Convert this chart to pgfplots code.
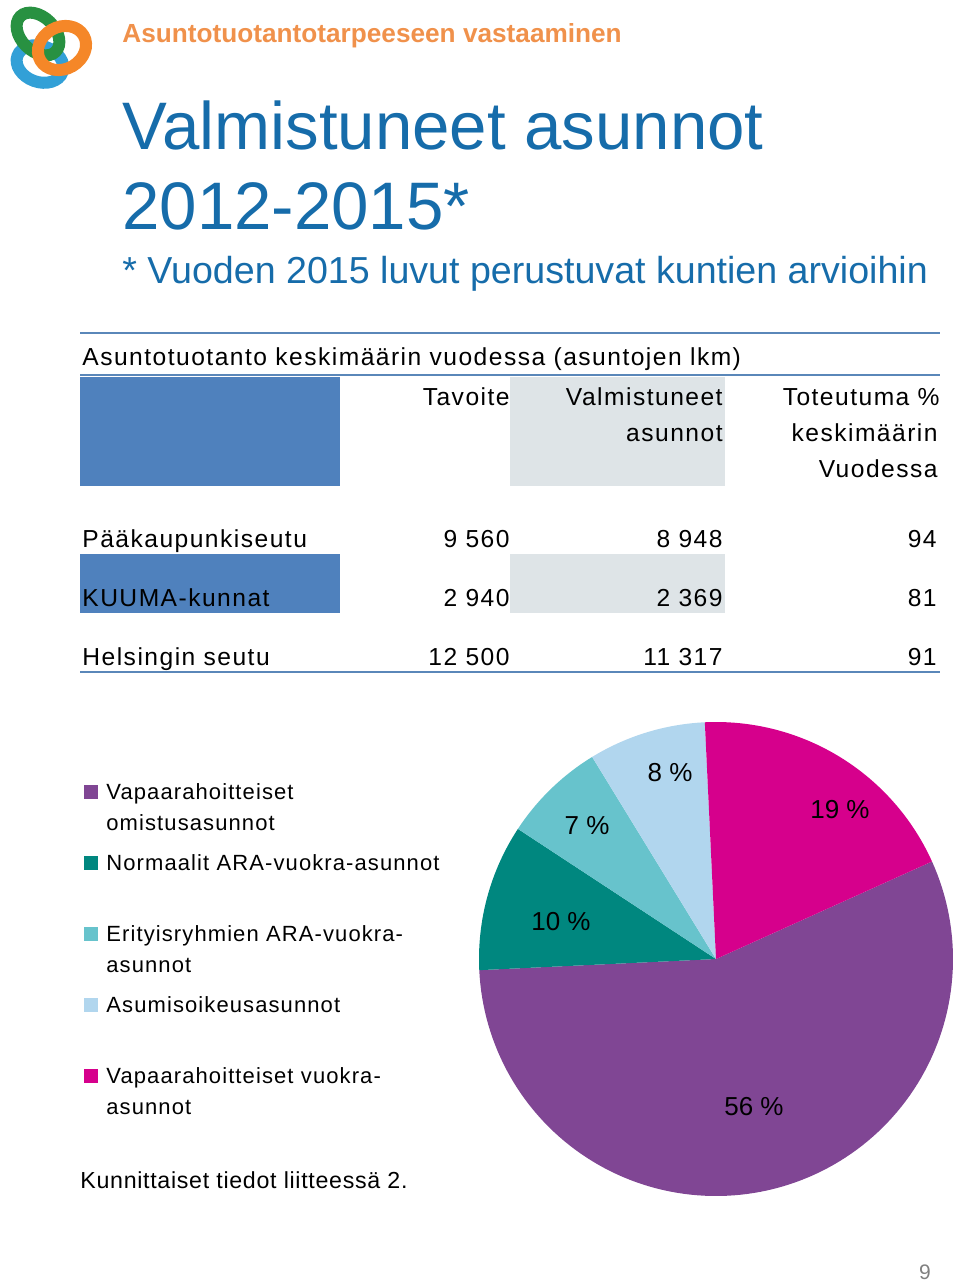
\documentclass[border=0pt]{standalone}
\usepackage{pgfplots}
\pgfplotsset{compat=1.18}
\usepgfplotslibrary{polar}
\usepackage{fontspec}
\setmainfont{Liberation Sans}
\newfontfamily\tabfont[LetterSpace=6]{Liberation Sans}
\newfontfamily\legfont[LetterSpace=5]{Liberation Sans}
\newfontfamily\footfont[LetterSpace=3]{Liberation Sans}
\definecolor{orangeT}{RGB}{240,145,75}
\definecolor{blueT}{RGB}{22,108,170}
\definecolor{tabline}{RGB}{90,135,185}
\definecolor{blockblue}{RGB}{79,129,189}
\definecolor{blockgray}{RGB}{222,228,231}
\definecolor{cPurple}{RGB}{128,70,148}
\definecolor{cTeal}{RGB}{0,135,127}
\definecolor{cCyan}{RGB}{103,195,204}
\definecolor{cLight}{RGB}{177,214,238}
\definecolor{cPink}{RGB}{214,0,140}
% pie shares (%), clockwise from the start angle
\def\vA{56}\def\vB{10}\def\vC{7}\def\vD{8}\def\vE{19}
\begin{document}
\begin{tikzpicture}[x=0.5bp,y=-0.5bp]
\path (0,0) rectangle (960,1282);
% logo
\draw[line width=6bp, color={rgb,255:red,50;green,160;blue,215}] (40,64) ellipse [x radius=24, y radius=18, rotate=-20];
\draw[line width=6bp, color={rgb,255:red,40;green,145;blue,65}] (38,34) ellipse [x radius=25, y radius=17, rotate=-45];
\draw[line width=6bp, color={rgb,255:red,245;green,135;blue,40}] (62,48) ellipse [x radius=25, y radius=21, rotate=30];
% titles
\node[anchor=base west, inner sep=0, text=orangeT, font=\fontsize{13.1bp}{15bp}\selectfont\bfseries] at (122,43) {Asuntotuotantotarpeeseen vastaaminen};
\node[anchor=base west, inner sep=0, text=blueT, font=\fontsize{33.6bp}{40bp}\selectfont] at (122,150) {Valmistuneet asunnot};
\node[anchor=base west, inner sep=0, text=blueT, font=\fontsize{33.6bp}{40bp}\selectfont] at (122,230) {2012-2015*};
\node[anchor=base west, inner sep=0, text=blueT, font=\fontsize{18.8bp}{22bp}\selectfont] at (122,284) {* Vuoden 2015 luvut perustuvat kuntien arvioihin};
% table
\begin{scope}[every node/.style={inner sep=0, font=\tabfont\fontsize{12.3bp}{15bp}\selectfont}]
\draw[tabline, line width=1.2bp] (80,333) -- (940,333);
\node[anchor=base west] at (82,366) {Asuntotuotanto keskimäärin vuodessa (asuntojen lkm)};
\draw[tabline, line width=1bp] (80,375) -- (940,375);
\fill[blockblue] (80,377) rectangle (340,486);
\fill[blockgray] (510,377) rectangle (725,486);
\node[anchor=base east] at (510,405) {Tavoite};
\node[anchor=base east] at (723,405) {Valmistuneet};
\node[anchor=base east] at (723,441) {asunnot};
\node[anchor=base east] at (940,405) {Toteutuma \%};
\node[anchor=base east] at (938,441) {keskimäärin};
\node[anchor=base east] at (938,477) {Vuodessa};
\fill[blockblue] (80,554) rectangle (340,613);
\fill[blockgray] (510,554) rectangle (725,613);
\node[anchor=base west] at (82,547) {Pääkaupunkiseutu};
\node[anchor=base east] at (510,547) {9 560};
\node[anchor=base east] at (723,547) {8 948};
\node[anchor=base east] at (937,547) {94};
\node[anchor=base west] at (82,606) {KUUMA-kunnat};
\node[anchor=base east] at (510,606) {2 940};
\node[anchor=base east] at (723,606) {2 369};
\node[anchor=base east] at (937,606) {81};
\node[anchor=base west] at (82,665) {Helsingin seutu};
\node[anchor=base east] at (510,665) {12 500};
\node[anchor=base east] at (723,665) {11 317};
\node[anchor=base east] at (937,665) {91};
\draw[tabline, line width=1.2bp] (80,672) -- (940,672);
\end{scope}
% pie
\coordinate (piec) at (716,959);
\pgfmathsetmacro{\aA}{24.3}
\pgfmathsetmacro{\aB}{\aA-\vA*3.6}
\pgfmathsetmacro{\aC}{\aB-\vB*3.6}
\pgfmathsetmacro{\aD}{\aC-\vC*3.6}
\pgfmathsetmacro{\aE}{\aD-\vD*3.6}
\pgfmathsetmacro{\aF}{\aE-\vE*3.6}
\begin{polaraxis}[
  at={(piec)}, anchor=origin,
  scale only axis, width=237bp, height=237bp,
  ymin=0, ymax=1, hide axis, clip=false,
  legend image code/.code={\fill[#1] (0bp,0bp) rectangle (7bp,7bp);},
  legend style={at={(-0.8333,0.8713)}, anchor=north west, draw=none, fill=none,
    inner sep=0pt, row sep=0pt, column sep=4bp,
    cells={anchor=base west},
    nodes={inner sep=0pt, align=left, text width=180bp, text height=8bp, text depth=27.5bp,
      font=\legfont\fontsize{11bp}{15.5bp}\selectfont}},
]
\addplot[fill=cPurple, draw=none, domain=\aB:\aA, samples=120] {1} -- (axis cs:0,0) -- cycle;
\addlegendentry{Vapaarahoitteiset\\omistusasunnot}
\addplot[fill=cTeal, draw=none, domain=\aC:\aB, samples=30] {1} -- (axis cs:0,0) -- cycle;
\addlegendentry{Normaalit ARA-vuokra-asunnot}
\addplot[fill=cCyan, draw=none, domain=\aD:\aC, samples=30] {1} -- (axis cs:0,0) -- cycle;
\addlegendentry{Erityisryhmien ARA-vuokra-\\asunnot}
\addplot[fill=cLight, draw=none, domain=\aE:\aD, samples=30] {1} -- (axis cs:0,0) -- cycle;
\addlegendentry{Asumisoikeusasunnot}
\addplot[fill=cPink, draw=none, domain=\aF:\aE, samples=60] {1} -- (axis cs:0,0) -- cycle;
\addlegendentry{Vapaarahoitteiset vuokra-\\asunnot}
\end{polaraxis}
\begin{scope}[every node/.style={inner sep=0, font=\fontsize{13bp}{15bp}\selectfont}]
\node at (670,773) {8 \%};
\node at (840,810) {19 \%};
\node at (587,826) {7 \%};
\node at (561,922) {10 \%};
\node at (754,1107) {56 \%};
\end{scope}
\node[anchor=base west, inner sep=0, font=\footfont\fontsize{11.6bp}{14bp}\selectfont] at (80,1188) {Kunnittaiset tiedot liitteessä 2.};
\node[anchor=base, inner sep=0, text=gray, font=\fontsize{10.5bp}{12bp}\selectfont] at (925,1279) {9};
\end{tikzpicture}
\end{document}
